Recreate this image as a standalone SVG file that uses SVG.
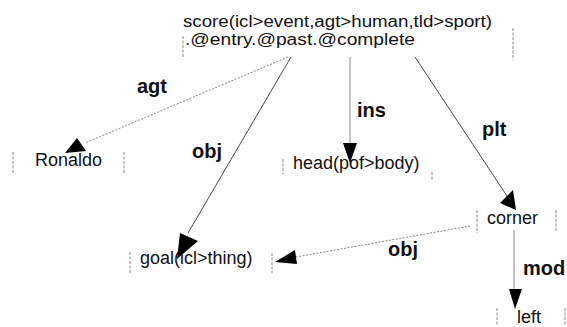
<svg xmlns="http://www.w3.org/2000/svg" width="567" height="327" viewBox="0 0 567 327">
<style>
.bg{fill:#ffffff}
.nt{font-family:"Liberation Sans",Arial,sans-serif;font-size:18px;fill:#111}
.tp{font-family:"Liberation Sans",Arial,sans-serif;font-size:16px;fill:#111}
.lb{font-family:"Liberation Sans",Arial,sans-serif;font-size:20px;font-weight:bold;fill:#111}
.bar{stroke:#888;stroke-width:1;stroke-dasharray:3,1.5;fill:none}
.solid{stroke:#333;stroke-width:0.9;fill:none}
.gray{stroke:#999;stroke-width:1.2;fill:none}
.dash{stroke:#777;stroke-width:0.9;stroke-dasharray:2,1.5;fill:none}
.ah{fill:#000}
</style>
<rect class="bg" x="0" y="0" width="567" height="327"/>
<g id="connectors">
  <path class="dash" d="M288,57 L85,143"/>
  <polygon class="ah" points="77,138 65,153 86,151"/>
  <path class="solid" d="M291,57 L188,233"/>
  <polygon class="ah" points="180,233 198,241 177,259"/>
  <path class="gray" d="M350,57 L350,145"/>
  <polygon class="ah" points="343,143 357,143 350,163"/>
  <path class="solid" d="M415,57 L507,196"/>
  <polygon class="ah" points="500,203 513,190 516,210"/>
  <path class="dash" d="M470,226 L296,257"/>
  <polygon class="ah" points="275,262 295,250 297,264"/>
  <path class="gray" d="M514,230 L514,290"/>
  <polygon class="ah" points="509,289 522,289 515,309"/>
  <text class="lb" x="137" y="93">agt</text>
  <text class="lb" x="192" y="158">obj</text>
  <text class="lb" x="357" y="117">ins</text>
  <text class="lb" x="482" y="136">plt</text>
  <text class="lb" x="388" y="256">obj</text>
  <text class="lb" x="523" y="275">mod</text>
</g>
<g id="score">
  <line class="bar" x1="183" y1="36" x2="183" y2="57"/>
  <line class="bar" x1="513" y1="28" x2="513" y2="60"/>
  <text class="tp" x="183" y="27" textLength="309" lengthAdjust="spacingAndGlyphs">score(icl&gt;event,agt&gt;human,tld&gt;sport)</text>
  <text class="tp" x="185" y="45" textLength="230" lengthAdjust="spacingAndGlyphs">.@entry.@past.@complete</text>
</g>
<g id="ronaldo">
  <line class="bar" x1="13" y1="152" x2="13" y2="173"/>
  <line class="bar" x1="124" y1="152" x2="124" y2="173"/>
  <text class="nt" x="35" y="166">Ronaldo</text>
</g>
<g id="head">
  <line class="bar" x1="283" y1="159" x2="283" y2="174"/>
  <line class="bar" x1="432" y1="172" x2="432" y2="180"/>
  <text class="nt" x="293" y="169">head(pof&gt;body)</text>
</g>
<g id="goal">
  <line class="bar" x1="130" y1="252" x2="130" y2="273"/>
  <line class="bar" x1="272" y1="253" x2="272" y2="273"/>
  <text class="nt" x="140" y="264">goal(icl&gt;thing)</text>
</g>
<g id="corner">
  <line class="bar" x1="477" y1="210" x2="477" y2="233"/>
  <line class="bar" x1="556" y1="210" x2="556" y2="232"/>
  <text class="nt" x="487" y="224">corner</text>
</g>
<g id="left">
  <line class="bar" x1="497" y1="308" x2="497" y2="325"/>
  <line class="bar" x1="565" y1="308" x2="565" y2="325"/>
  <text class="nt" x="517" y="323">left</text>
</g>
</svg>
